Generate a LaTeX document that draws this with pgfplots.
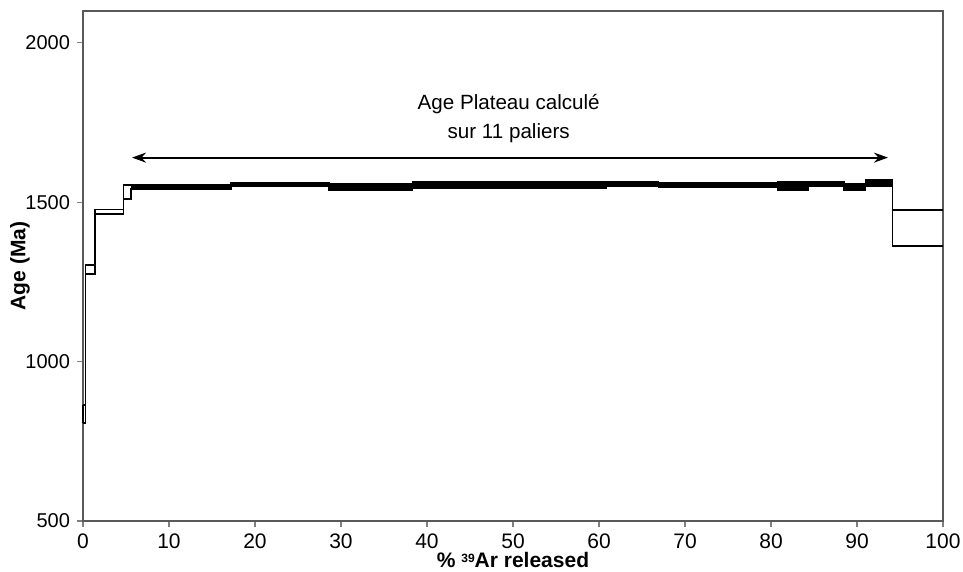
\documentclass[border=0pt]{standalone}
\usepackage{fontspec}
\setmainfont{Liberation Sans}
\usepackage{pgfplots}
\pgfplotsset{compat=1.18}
\usetikzlibrary{arrows.meta}

% one step: x from, x to, low age, high age
\newcommand{\palier}[4]{%
  \addplot[draw=black, fill=black, line width=0.6pt]
    coordinates {(#1,#3) (#2,#3) (#2,#4) (#1,#4)} --cycle;}

\begin{document}
\begin{tikzpicture}
\path[use as bounding box] (-41.5pt,-25.5pt) rectangle (440pt,260.5pt);
\begin{axis}[
    scale only axis,
    width=430pt, height=255pt,
    xmin=0, xmax=100,
    ymin=500, ymax=2100,
    xtick={0,10,...,100},
    ytick={500,1000,1500,2000},
    tick align=outside,
    xtick pos=bottom, ytick pos=left,
    major tick length=3pt,
    axis line style={gray!70!black, line width=0.8pt},
    tick style={gray, line width=0.6pt},
    yticklabel style={font=\fontsize{10}{11}\selectfont},
    xticklabel style={font=\fontsize{10.5}{11}\selectfont},
    /pgf/number format/assume math mode=true,
    /pgf/number format/1000 sep={},
    xlabel={\bfseries\% {\fontsize{6}{6}\selectfont\raisebox{0.85ex}{39}}Ar released},
    ylabel={\bfseries Age (Ma)},
    label style={font=\fontsize{10.5}{12}\selectfont},
    xlabel style={at={(axis description cs:0.5,0)}, anchor=center, yshift=-19.5pt},
    ylabel style={at={(axis description cs:0,0.5)}, anchor=center, yshift=31.5pt},
    clip=false,
]
% plateau steps (filled, they are thin)
\palier{4.7}{5.6}{1510}{1554}
\palier{5.6}{17.2}{1542}{1554}
\palier{17.2}{28.6}{1549}{1561}
\palier{28.6}{38.3}{1536}{1557}
\palier{38.3}{60.8}{1543}{1563}
\palier{60.8}{66.9}{1549}{1565}
\palier{66.9}{80.8}{1548}{1560}
\palier{80.8}{84.3}{1539}{1565}
\palier{84.3}{88.5}{1549}{1565}
\palier{88.5}{91.0}{1539}{1557}
\palier{91.0}{94.1}{1549}{1570}
% step 4 stays open
\addplot[draw=black, fill=white, line width=0.6pt]
  coordinates {(4.7,1510) (5.6,1510) (5.6,1554) (4.7,1554)} --cycle;

% upper and lower edges of the spectrum
\addplot[const plot, black, line width=0.7pt] coordinates {
  (0,864) (0.3,1303) (1.4,1478) (4.7,1554) (5.6,1554) (17.2,1561)
  (28.6,1557) (38.3,1563) (60.8,1565) (66.9,1560) (80.8,1565)
  (84.3,1565) (88.5,1557) (91.0,1570) (94.1,1476) (100,1476)};
\addplot[const plot, black, line width=0.7pt] coordinates {
  (0,807) (0.3,1275) (1.4,1463) (4.7,1510) (5.6,1542) (17.2,1549)
  (28.6,1536) (38.3,1543) (60.8,1549) (66.9,1548) (80.8,1539)
  (84.3,1549) (88.5,1539) (91.0,1549) (94.1,1363) (100,1363)};
\addplot[black, line width=0.7pt] coordinates {(0,807) (0,864)};

\draw[{Stealth[length=7pt,width=5pt]}-{Stealth[length=7pt,width=5pt]}, line width=1pt]
  (axis cs:5.7,1640) -- (axis cs:93.6,1640);
\node[font=\fontsize{10.3}{12}\selectfont] at (axis cs:49.5,1808) {Age Plateau calculé};
\node[font=\fontsize{10.3}{12}\selectfont] at (axis cs:49.5,1717) {sur 11 paliers};
\end{axis}
\end{tikzpicture}
\end{document}
